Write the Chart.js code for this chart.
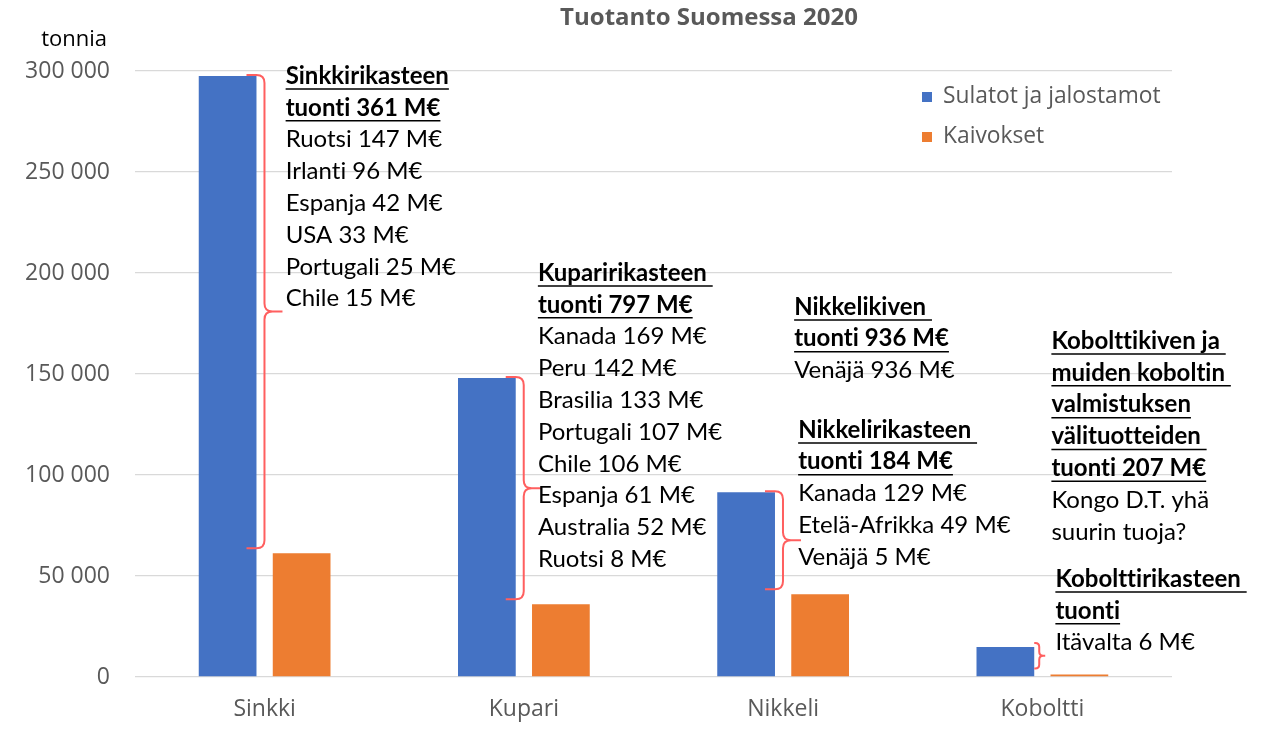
<!DOCTYPE html>
<html>
<head>
<meta charset="utf-8">
<script src="https://cdn.jsdelivr.net/npm/chart.js@4"></script>
<style>
  body { margin: 0; background: #fff; }
  #wrap { width: 1261px; height: 734px; }
</style>
</head>
<body>
<div id="wrap"><canvas id="js--chart"></canvas></div>
<script>
const categories = ["Sinkki", "Kupari", "Nikkeli", "Koboltti"];
const seriesNames = ["Sulatot ja jalostamot", "Kaivokset"];
const sulatot = [297500, 148000, 91500, 14800];
const kaivokset = [61300, 36000, 41000, 1200];
const yTicks = [0, 50000, 100000, 150000, 200000, 250000, 300000];

// tekstilaatikot: [kategoria, x-siirtymä, y-arvo alussa, rivit]  (rivi "*" = lihavoitu + alleviivattu)
const notes = [
  [0, 21, 297500, ["*Sinkkirikasteen", "*tuonti 361 M€", "Ruotsi 147 M€", "Irlanti 96 M€", "Espanja 42 M€", "USA 33 M€", "Portugali 25 M€", "Chile 15 M€"]],
  [1, 14, 200000, ["*Kuparirikasteen ", "*tuonti 797 M€", "Kanada 169 M€", "Peru 142 M€", "Brasilia 133 M€", "Portugali 107 M€", "Chile 106 M€", "Espanja 61 M€", "Australia 52 M€", "Ruotsi 8 M€"]],
  [2, 11, 183200, ["*Nikkelikiven ", "*tuonti 936 M€", "Venäjä 936 M€"]],
  [2, 15, 122300, ["*Nikkelirikasteen ", "*tuonti 184 M€", "Kanada 129 M€", "Etelä-Afrikka 49 M€", "Venäjä 5 M€"]],
  [3, 9, 166300, ["*Kobolttikiven ja ", "*muiden koboltin ", "*valmistuksen", "*välituotteiden ", "*tuonti 207 M€", "Kongo D.T. yhä", "suurin tuoja?"]],
  [3, 13, 48500, ["*Kobolttirikasteen ", "*tuonti", "Itävalta 6 M€"]]
];

const NOTEFONT = "Lato, 'Open Sans', sans-serif";
const AXFONT = "'Open Sans', sans-serif";
const GRAY = "#595959";

function drawBrace(ctx, x, yTop, yBot, stub, tip, r) {
  const ym = (yTop + yBot) / 2;
  r = Math.min(r, (yBot - yTop) / 4);
  ctx.beginPath();
  ctx.moveTo(x - stub, yTop);
  ctx.lineTo(x - r, yTop);
  ctx.quadraticCurveTo(x, yTop, x, yTop + r);
  ctx.lineTo(x, ym - r);
  ctx.quadraticCurveTo(x, ym, x + r, ym);
  ctx.lineTo(x + tip, ym);
  ctx.moveTo(x + r, ym);
  ctx.quadraticCurveTo(x, ym, x, ym + r);
  ctx.lineTo(x, yBot - r);
  ctx.quadraticCurveTo(x, yBot, x - r, yBot);
  ctx.lineTo(x - stub, yBot);
  ctx.stroke();
}

const extras = {
  id: "extras",
  afterDraw(chart) {
    const ctx = chart.ctx;
    const xs = chart.scales.x, ys = chart.scales.y;
    ctx.save();

    // otsikko
    ctx.fillStyle = GRAY;
    ctx.font = "bold 24px " + AXFONT;
    ctx.textAlign = "center";
    ctx.textBaseline = "middle";
    ctx.fillText("Tuotanto Suomessa 2020", 709, 18);

    // y-akselin yksikkö
    ctx.fillStyle = "#000";
    ctx.font = "22px " + AXFONT;
    ctx.textAlign = "right";
    ctx.fillText("tonnia", 107, 40);

    // selite
    ctx.textAlign = "left";
    ctx.font = "22.8px " + AXFONT;
    chart.data.datasets.forEach(function (ds, i) {
      const y = 97 + i * 40;
      ctx.fillStyle = ds.backgroundColor;
      ctx.fillRect(922, y - 5, 10, 10);
      ctx.fillStyle = GRAY;
      ctx.fillText(ds.label, 943, y);
    });

    // sulkeet
    ctx.strokeStyle = "#FF5F5F";
    ctx.lineWidth = 2;
    const blue = chart.getDatasetMeta(0).data;
    const orange = chart.getDatasetMeta(1).data;
    for (let i = 0; i < categories.length; i++) {
      const right = blue[i].x + blue[i].width / 2;
      if (i === 3) {
        drawBrace(ctx, right + 5, blue[i].y - 4, orange[i].y - 6, 5, 6, 4);
      } else {
        drawBrace(ctx, right + 8, blue[i].y - 1, orange[i].y - 5, 18, 18, 8);
      }
    }

    // tekstit
    ctx.fillStyle = "#000";
    ctx.strokeStyle = "#000";
    ctx.textAlign = "left";
    ctx.letterSpacing = "0.01px"; // ei ligatuureja
    notes.forEach(function (n) {
      const x = xs.getPixelForValue(n[0]) + n[1];
      let y = ys.getPixelForValue(n[2]);
      n[3].forEach(function (line) {
        if (line[0] === "*") {
          const t = line.slice(1);
          ctx.font = "bold 24px " + NOTEFONT;
          ctx.fillText(t, x, y);
          const w = ctx.measureText(t).width;
          ctx.lineWidth = 1.5;
          ctx.beginPath();
          ctx.moveTo(x, y + 13);
          ctx.lineTo(x + w, y + 13);
          ctx.stroke();
        } else {
          ctx.font = "24px " + NOTEFONT;
          ctx.fillText(line, x, y);
        }
        y += 31.8;
      });
    });
    ctx.restore();
  }
};

const data = {
  labels: categories,
  datasets: [
    { label: seriesNames[0], data: sulatot, backgroundColor: "#4472C4" },
    { label: seriesNames[1], data: kaivokset, backgroundColor: "#ED7D31" }
  ]
};

const config = {
  type: "bar",
  data: data,
  options: {
    responsive: true,
    maintainAspectRatio: false,
    animation: false,
    layout: { padding: { top: 71, right: 89, left: 0, bottom: 0 } },
    datasets: { bar: { categoryPercentage: 0.571, barPercentage: 0.78 } },
    plugins: { legend: { display: false }, tooltip: { enabled: false }, title: { display: false } },
    scales: {
      x: {
        grid: { display: false },
        border: { display: false },
        ticks: { color: GRAY, font: { family: AXFONT, size: 23 }, padding: 11 },
        afterFit: function (s) { s.height = 57; }
      },
      y: {
        min: 0,
        max: 300000,
        afterBuildTicks: function (s) { s.ticks = yTicks.map(function (v) { return { value: v }; }); },
        grid: { color: "#D9D9D9", lineWidth: 1.3, drawTicks: false },
        border: { display: false },
        ticks: {
          color: GRAY,
          font: { family: AXFONT, size: 23 },
          padding: 25,
          callback: function (v) { return String(v).replace(/\B(?=(\d{3})+(?!\d))/g, " "); }
        },
        afterFit: function (s) { s.width = 135; }
      }
    }
  },
  plugins: [extras]
};

const chart1 = new Chart(document.getElementById("js--chart"), config);
</script>
</body>
</html>
